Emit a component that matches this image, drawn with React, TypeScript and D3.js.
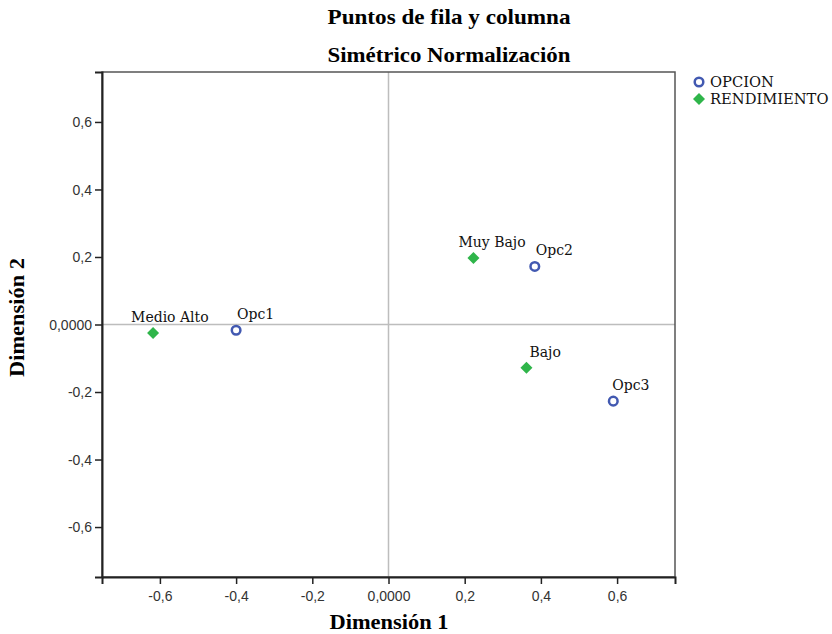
import { useEffect, useRef } from "react";
import * as d3 from "d3";

// Row points (OPCION) and column points (RENDIMIENTO)
const opcionNames = ["Opc1", "Opc2", "Opc3"];
const opcionDim1 = [-0.4, 0.384, 0.59];
const opcionDim2 = [-0.017, 0.172, -0.227];

const rendNames = ["Medio Alto", "Muy Bajo", "Bajo"];
const rendDim1 = [-0.618, 0.223, 0.362];
const rendDim2 = [-0.025, 0.197, -0.128];

const tickValues = [-0.6, -0.4, -0.2, 0, 0.2, 0.4, 0.6];

// label nudges (px) so the labels sit like the original
const labelShift = { "Medio Alto": -22, "Muy Bajo": -15, Bajo: 3, Opc1: 1, Opc2: 1, Opc3: -1 };

function fmt(v) {
  if (v === 0) return "0,0000";
  return d3.format(".1f")(v).replace(".", ",").replace("−", "-");
}

function App() {
  const ref = useRef();

  useEffect(() => {
    const width = 832;
    const height = 634;
    const left = 102;
    const right = 675;
    const top = 72;
    const bottom = 577;

    const blue = "#4259b1";
    const green = "#2fb54a";
    const serif = "'DejaVu Serif', serif";
    const titleFont = "'Liberation Serif', 'Times New Roman', serif";
    const sans = "'Liberation Sans', Arial, sans-serif";

    const root = d3.select(ref.current);
    root.selectAll("*").remove();

    const svg = root
      .append("svg")
      .attr("width", width)
      .attr("height", height)
      .style("position", "absolute")
      .style("left", "0px")
      .style("top", "0px")
      .style("background", "#fff");

    const x = d3.scaleLinear().domain([-0.752, 0.752]).range([left, right]);
    const y = d3.scaleLinear().domain([-0.748, 0.748]).range([bottom, top]);

    const boldText = (sel, size, len) =>
      sel
        .attr("font-family", titleFont)
        .attr("font-weight", "bold")
        .attr("font-size", size)
        .attr("textLength", len)
        .attr("lengthAdjust", "spacingAndGlyphs");

    // Titles
    svg
      .append("text")
      .attr("x", 449)
      .attr("y", 24)
      .attr("text-anchor", "middle")
      .call(boldText, 21, 243)
      .text("Puntos de fila y columna");
    svg
      .append("text")
      .attr("x", 449)
      .attr("y", 62)
      .attr("text-anchor", "middle")
      .call(boldText, 21, 243)
      .text("Simétrico Normalización");

    // Reference lines through the origin
    svg
      .append("line")
      .attr("x1", x(0))
      .attr("x2", x(0))
      .attr("y1", top)
      .attr("y2", bottom)
      .attr("stroke", "#bdbdbd")
      .attr("stroke-width", 1.5);
    svg
      .append("line")
      .attr("x1", left)
      .attr("x2", right)
      .attr("y1", y(0))
      .attr("y2", y(0))
      .attr("stroke", "#bdbdbd")
      .attr("stroke-width", 1.5);

    // Frame
    svg
      .append("rect")
      .attr("x", left)
      .attr("y", top)
      .attr("width", right - left)
      .attr("height", bottom - top)
      .attr("fill", "none")
      .attr("stroke", "#555")
      .attr("stroke-width", 1.5);

    // Axes
    const xAxis = svg
      .append("g")
      .attr("transform", `translate(0,${bottom})`)
      .call(d3.axisBottom(x).tickValues(tickValues).tickFormat(fmt).tickSize(7).tickPadding(7));
    const yAxis = svg
      .append("g")
      .attr("transform", `translate(${left},0)`)
      .call(d3.axisLeft(y).tickValues(tickValues).tickFormat(fmt).tickSize(7).tickPadding(3));

    [xAxis, yAxis].forEach((g) => {
      g.select(".domain").attr("stroke", "#222").attr("stroke-width", 2);
      g.selectAll(".tick line").attr("stroke", "#222").attr("stroke-width", 1.5);
      g.selectAll(".tick text")
        .attr("font-family", sans)
        .attr("font-size", 14)
        .attr("fill", "#333");
    });
    yAxis.selectAll(".tick text").attr("dy", "0.35em");

    // Axis titles
    svg
      .append("text")
      .attr("x", 389)
      .attr("y", 629)
      .attr("text-anchor", "middle")
      .call(boldText, 21, 119)
      .text("Dimensión 1");
    svg
      .append("text")
      .attr("transform", `translate(24,${(top + bottom) / 2 - 7}) rotate(-90)`)
      .attr("text-anchor", "middle")
      .call(boldText, 21, 119)
      .text("Dimensión 2");

    const diamond = d3.symbol().type(d3.symbolSquare).size(72);

    // Column points: green diamonds
    const rend = rendNames.map((n, i) => ({ name: n, d1: rendDim1[i], d2: rendDim2[i] }));
    svg
      .selectAll(".rend")
      .data(rend)
      .enter()
      .append("path")
      .attr("d", diamond)
      .attr("transform", (d) => `translate(${x(d.d1)},${y(d.d2)}) rotate(45)`)
      .attr("fill", green);

    // Row points: blue open circles
    const opc = opcionNames.map((n, i) => ({ name: n, d1: opcionDim1[i], d2: opcionDim2[i] }));
    svg
      .selectAll(".opc")
      .data(opc)
      .enter()
      .append("circle")
      .attr("cx", (d) => x(d.d1))
      .attr("cy", (d) => y(d.d2))
      .attr("r", 4.3)
      .attr("fill", "#fff")
      .attr("stroke", blue)
      .attr("stroke-width", 2.5);

    // Point labels
    svg
      .selectAll(".lbl")
      .data([...rend, ...opc])
      .enter()
      .append("text")
      .attr("x", (d) => x(d.d1) + labelShift[d.name])
      .attr("y", (d) => y(d.d2) - 11)
      .attr("font-family", serif)
      .attr("font-size", 14)
      .attr("fill", "#111")
      .text((d) => d.name);

    // Legend
    const legend = svg.append("g").attr("transform", "translate(699,82)");
    legend
      .append("circle")
      .attr("cx", 0)
      .attr("cy", 0)
      .attr("r", 4.3)
      .attr("fill", "#fff")
      .attr("stroke", blue)
      .attr("stroke-width", 2.5);
    legend
      .append("path")
      .attr("d", diamond)
      .attr("transform", "translate(0,17) rotate(45)")
      .attr("fill", green);
    legend
      .selectAll("text")
      .data(["OPCION", "RENDIMIENTO"])
      .enter()
      .append("text")
      .attr("x", 11)
      .attr("y", (d, i) => 5 + i * 17)
      .attr("font-family", serif)
      .attr("font-size", 14.7)
      .attr("fill", "#111")
      .text((d) => d);
  }, []);

  return <div ref={ref}></div>;
}

export default App;
